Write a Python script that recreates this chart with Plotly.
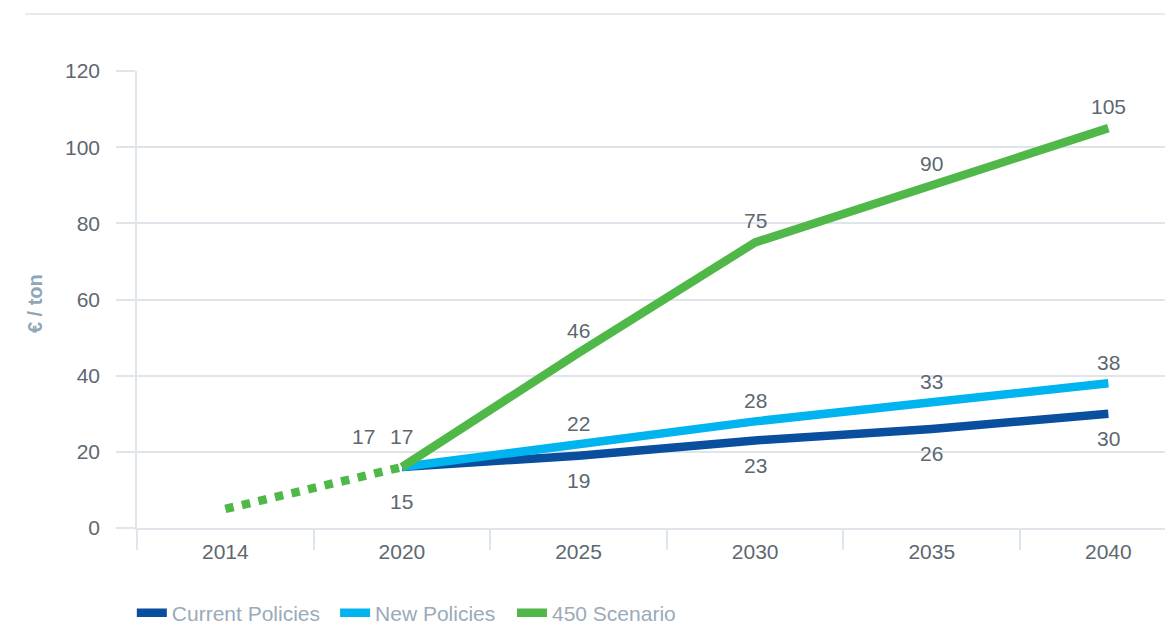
import plotly.graph_objects as go

# ---- data ----
categories = ["2014", "2020", "2025", "2030", "2035", "2040"]
proj_years = ["2020", "2025", "2030", "2035", "2040"]

current_values = [16, 19, 23, 26, 30]
new_values = [16, 22, 28, 33, 38]
s450_values = [16, 46, 75, 90, 105]

current_labels = [15, 19, 23, 26, 30]
new_labels = [17, 22, 28, 33, 38]
s450_labels = [17, 46, 75, 90, 105]

hist_years = ["2014", "2020"]
hist_values = [5, 16]

y_ticks = [0, 20, 40, 60, 80, 100, 120]

series_names = ["Current Policies", "New Policies", "450 Scenario"]

# ---- styles ----
C_CUR = "#0a4f9d"
C_NEW = "#00b4ef"
C_450 = "#50b848"
GRID = "#dfe5ea"
TICK_TXT = "#5d6870"
LEG_TXT = "#9aabb8"
FONT = "Liberation Sans"
NB = "\u00a0"

fig = go.Figure()

fig.add_trace(go.Scatter(x=proj_years, y=current_values, mode="lines", name=series_names[0] + NB + "\u2009",
                         line=dict(color=C_CUR, width=8.5), hoverinfo="skip"))
fig.add_trace(go.Scatter(x=proj_years, y=new_values, mode="lines", name=series_names[1] + NB + NB,
                         line=dict(color=C_NEW, width=8.5), hoverinfo="skip"))
fig.add_trace(go.Scatter(x=hist_years, y=hist_values, mode="lines", showlegend=False,
                         line=dict(color=C_450, width=8.5, dash="dot"), hoverinfo="skip"))
fig.add_trace(go.Scatter(x=proj_years, y=s450_values, mode="lines", name=series_names[2],
                         line=dict(color=C_450, width=8.5), hoverinfo="skip"))

annotations = []
lab_font = dict(family=FONT, size=21, color=TICK_TXT)
for i, yr in enumerate(proj_years):
    xi = categories.index(yr)
    # 450 scenario labels above
    annotations.append(dict(x=xi, y=s450_values[i], text=str(s450_labels[i]), showarrow=False,
                            yshift=22 if i else 31, xshift=-38 if i == 0 else 0, font=lab_font))
    # New policies labels above
    annotations.append(dict(x=xi, y=new_values[i], text=str(new_labels[i]), showarrow=False,
                            yshift=21 if i else 31, font=lab_font))
    # Current policies labels below
    annotations.append(dict(x=xi, y=current_values[i], text=str(current_labels[i]), showarrow=False,
                            yshift=-25 if i else -34, font=lab_font))

# y-axis title
annotations.append(dict(xref="paper", yref="paper", x=-0.0985, y=0.492, text="<b>€ / ton</b>",
                        textangle=-90, showarrow=False, xanchor="center", yanchor="middle",
                        font=dict(family=FONT, size=20, color="#8ea6b6")))

# page body has an 8px margin: compensate so the plot sits where the reference has it
fig.update_layout(
    width=1165, height=634,
    margin=dict(l=129, r=0, t=63, b=114),
    paper_bgcolor="white", plot_bgcolor="white",
    font=dict(family=FONT, color=TICK_TXT),
    showlegend=True,
    legend=dict(orientation="h", x=-0.005, xanchor="left", y=-0.186, yanchor="middle",
                font=dict(family=FONT, size=21, color=LEG_TXT), itemwidth=30,
                traceorder="normal", bgcolor="rgba(0,0,0,0)"),
    annotations=annotations,
    shapes=[dict(type="line", xref="paper", yref="paper", x0=-0.108, x1=1.0, y0=1.1247, y1=1.1247,
                 line=dict(color=GRID, width=1.5))],
)

fig.update_xaxes(type="category", categoryorder="array", categoryarray=categories,
                 range=[-0.5, 5.366], tickson="boundaries", ticks="outside", ticklen=20,
                 tickcolor=GRID, tickwidth=1.5, showgrid=False, showline=True, linecolor=GRID,
                 linewidth=1.5, tickfont=dict(family=FONT, size=21, color=TICK_TXT),
                 ticklabelstandoff=4, zeroline=False, fixedrange=True)
fig.update_yaxes(range=[0, 120], tickvals=y_ticks, ticks="outside", ticklen=19, tickcolor=GRID,
                 tickwidth=1.5, showgrid=True, gridcolor=GRID, gridwidth=1.5, showline=True,
                 linecolor=GRID, linewidth=1.5, zeroline=False, ticklabelstandoff=12,
                 tickfont=dict(family=FONT, size=21, color=TICK_TXT), fixedrange=True)

fig.write_html("out.html")
